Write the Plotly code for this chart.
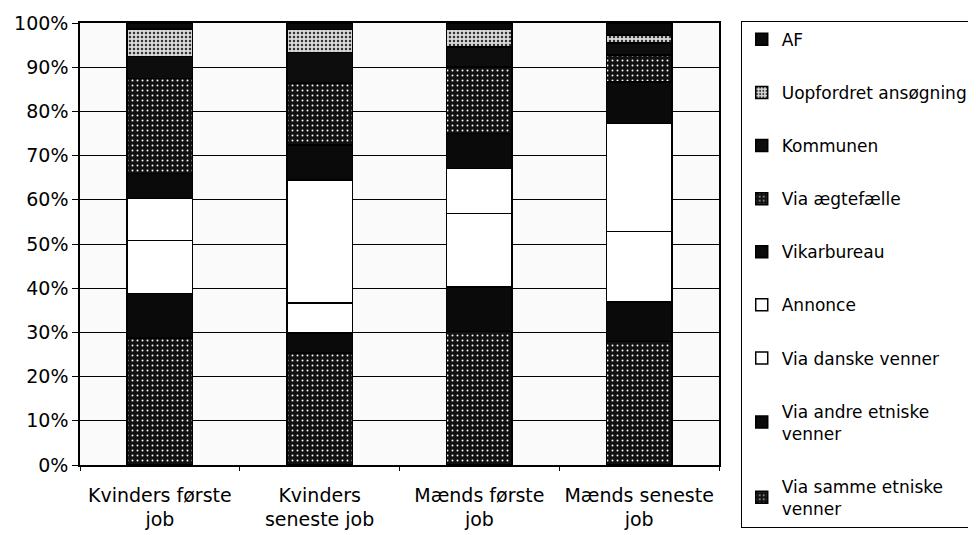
import plotly.graph_objects as go

categories = ["Kvinders første<br>job", "Kvinders<br>seneste job", "Mænds første<br>job", "Mænds seneste<br>job"]

# bottom -> top stacking order
samme_etniske = [28.7, 25.3, 30.2, 27.9]
andre_etniske = [10.1, 4.6, 10.1, 9.0]
danske_venner = [12.0, 6.7, 16.6, 15.9]
annonce = [9.5, 27.9, 10.2, 24.5]
vikarbureau = [5.7, 7.9, 7.9, 9.4]
aegtefaelle = [21.5, 14.0, 15.1, 6.1]
kommunen = [4.9, 6.9, 4.5, 2.7]
uopfordret = [6.2, 5.2, 3.9, 1.8]
af = [1.4, 1.5, 1.5, 2.7]

y_ticks = [0, 10, 20, 30, 40, 50, 60, 70, 80, 90, 100]
y_tick_labels = ["0%", "10%", "20%", "30%", "40%", "50%", "60%", "70%", "80%", "90%", "100%"]

dark_stipple = dict(shape=".", fgcolor="#ffffff", bgcolor="#111111", size=5, solidity=0.12, fillmode="replace")
light_stipple = dict(shape=".", fgcolor="#333333", bgcolor="#d9d9d9", size=4, solidity=0.3, fillmode="replace")

series = [
    ("Via samme etniske<br>venner", samme_etniske, "#111111", dark_stipple),
    ("Via andre etniske<br>venner", andre_etniske, "#0a0a0a", None),
    ("Via danske venner", danske_venner, "#ffffff", None),
    ("Annonce", annonce, "#ffffff", None),
    ("Vikarbureau", vikarbureau, "#0a0a0a", None),
    ("Via ægtefælle", aegtefaelle, "#111111", dark_stipple),
    ("Kommunen", kommunen, "#0d0d0d", None),
    ("Uopfordret ansøgning", uopfordret, "#d9d9d9", light_stipple),
    ("AF", af, "#0a0a0a", None),
]

fig = go.Figure()
n = len(series)
for i, (name, vals, color, pat) in enumerate(series):
    marker = dict(color=color, line=dict(color="black", width=1.5))
    if pat:
        marker["pattern"] = pat
    fig.add_trace(go.Bar(
        x=categories, y=vals, name=name, marker=marker,
        legendgroup=f"g{i}", legendrank=n - i, hoverinfo="skip",
    ))

font_family = "DejaVu Sans, Arial, sans-serif"
fig.update_layout(
    barmode="stack",
    bargap=0.59,
    width=968, height=527,
    margin=dict(l=72, r=257, t=15, b=70, autoexpand=False),
    paper_bgcolor="white",
    plot_bgcolor="#fafafa",
    font=dict(family=font_family, size=19, color="black"),
    legend=dict(
        x=1.034, xanchor="left", y=1.005, yanchor="top",
        traceorder="grouped",
        tracegroupgap=28,
        bordercolor="black", borderwidth=1,
        bgcolor="white",
        font=dict(family=font_family, size=17, color="black"),
        itemwidth=30,
        maxheight=1000,
    ),
    showlegend=True,
)
fig.update_yaxes(
    range=[0, 100], tickvals=y_ticks, ticktext=y_tick_labels,
    showgrid=True, gridcolor="black", gridwidth=1.2,
    showline=True, linecolor="black", linewidth=1.5, mirror=True,
    ticks="outside", ticklen=6, tickcolor="black",
    zeroline=False,
)
fig.update_xaxes(
    showline=True, linecolor="black", linewidth=1.5, mirror=True,
    ticks="outside", ticklen=4, tickcolor="black", tickson="boundaries",
    ticklabelstandoff=12,
)

fig.write_html("out.html")
